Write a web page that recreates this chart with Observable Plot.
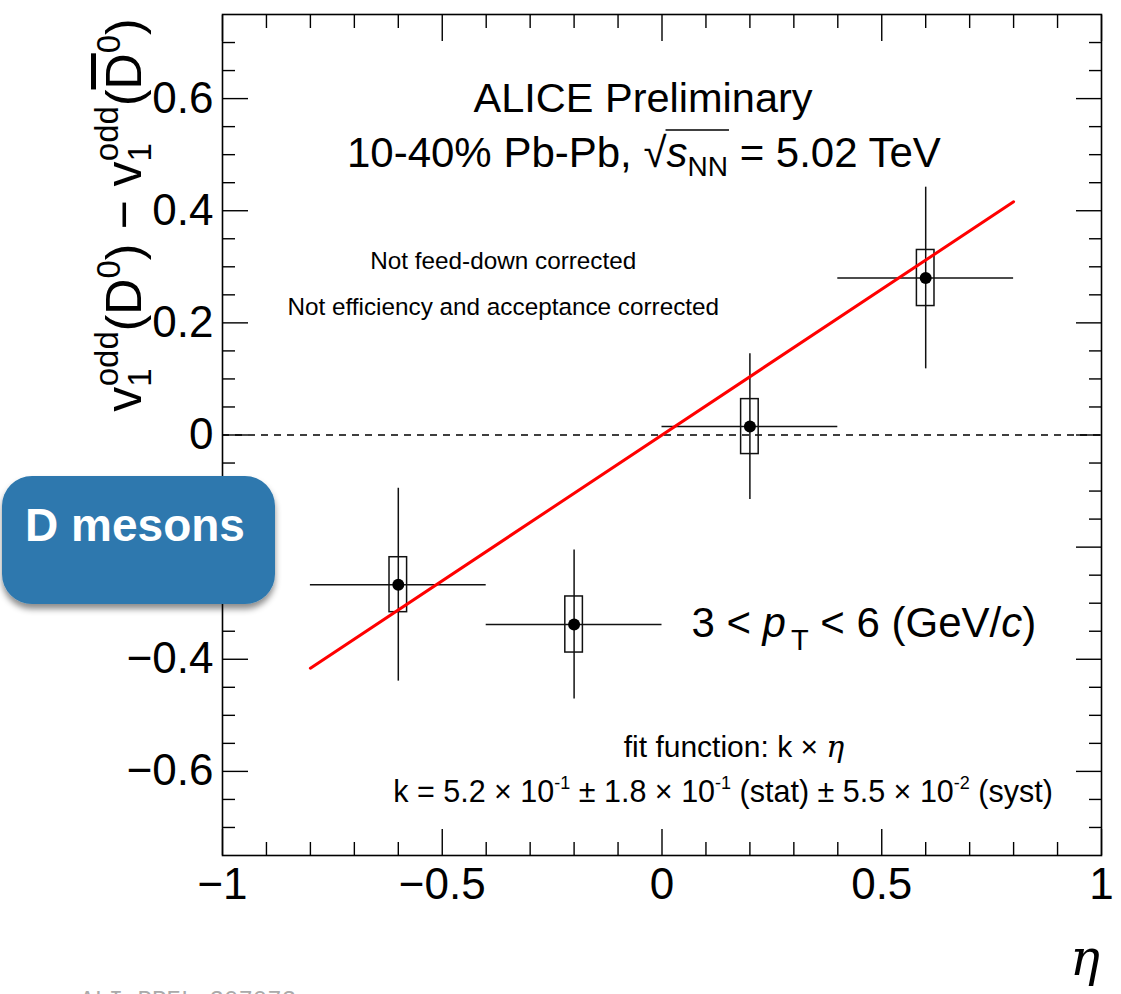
<!DOCTYPE html>
<html>
<head>
<meta charset="utf-8">
<script src="https://cdn.jsdelivr.net/npm/d3@7"></script>
<script src="https://cdn.jsdelivr.net/npm/@observablehq/plot@0.6"></script>
<style>
  html, body { margin: 0; padding: 0; background: #fff; }
  #chart { position: relative; width: 1121px; height: 994px; overflow: hidden; }
  #chart svg { display: block; }
</style>
</head>
<body>
<div id="chart"></div>
<script>
// D0 minus anti-D0 odd directed flow vs pseudorapidity, 10-40% Pb-Pb, 3 < pT < 6 GeV/c
const eta        = [-0.6, -0.2, 0.2, 0.6];
const v1Diff     = [-0.267, -0.338, 0.015, 0.280];
const statErr    = [0.172, 0.133, 0.130, 0.162];
const systErr    = [0.049, 0.050, 0.049, 0.050];
const etaHalfBin = [0.2, 0.2, 0.2, 0.2];
const systHalfWidth = 0.02;

// linear fit k * eta
const fitK = 0.52;
const fitRange = [-0.8, 0.8];

// axis ticks
const xMajor = [-1, -0.5, 0, 0.5, 1];
const xMinor = [-0.9, -0.8, -0.7, -0.6, -0.4, -0.3, -0.2, -0.1, 0.1, 0.2, 0.3, 0.4, 0.6, 0.7, 0.8, 0.9];
const yMajor = [-0.6, -0.4, -0.2, 0, 0.2, 0.4, 0.6];
const yMinor = [-0.7, -0.65, -0.55, -0.5, -0.45, -0.35, -0.3, -0.25, -0.15, -0.1, -0.05,
                0.05, 0.1, 0.15, 0.25, 0.3, 0.35, 0.45, 0.5, 0.55, 0.65, 0.7];
// the -0.2 label sits under the "D mesons" badge
const yLabelled = [-0.6, -0.4, 0, 0.2, 0.4, 0.6];

const points = eta.map((e, i) => ({
  eta: e, v: v1Diff[i], stat: statErr[i], syst: systErr[i], dx: etaHalfBin[i]
}));
const fitLine = fitRange.map(e => ({eta: e, v: fitK * e}));

const fmt = d => d === 0 ? "0" : (d < 0 ? "\u2212" : "") + String(Math.abs(d));
const FONT = "'Liberation Sans', Arial, Helvetica, sans-serif";

const tickOpts = {stroke: "#000", strokeWidth: 1.4, fill: "none", label: null};

const plot = Plot.plot({
  width: 1121,
  height: 994,
  marginLeft: 222,
  marginRight: 20,
  marginTop: 14,
  marginBottom: 139,
  style: {fontFamily: FONT, background: "#fff", color: "#000"},
  x: {domain: [-1, 1], axis: null},
  y: {domain: [-0.75, 0.75], axis: null},
  marks: [
    // inward ticks on all four sides
    Plot.axisX(xMajor, {...tickOpts, anchor: "bottom", tickSize: -26}),
    Plot.axisX(xMinor, {...tickOpts, anchor: "bottom", tickSize: -13}),
    Plot.axisX(xMajor, {...tickOpts, anchor: "top", tickSize: -26}),
    Plot.axisX(xMinor, {...tickOpts, anchor: "top", tickSize: -13}),
    Plot.axisY(yMajor, {...tickOpts, anchor: "left", tickSize: -26}),
    Plot.axisY(yMinor, {...tickOpts, anchor: "left", tickSize: -13}),
    Plot.axisY(yMajor, {...tickOpts, anchor: "right", tickSize: -26}),
    Plot.axisY(yMinor, {...tickOpts, anchor: "right", tickSize: -13}),
    // tick labels
    Plot.axisX(xMajor, {anchor: "bottom", tickSize: 0, tickPadding: 12, tickFormat: fmt,
      fontSize: 44, label: null, fill: "#000"}),
    Plot.axisY(yLabelled, {anchor: "left", tickSize: 0, tickPadding: 9, tickFormat: fmt,
      fontSize: 44, label: null, fill: "#000"}),
    // zero reference
    Plot.ruleY([0], {stroke: "#000", strokeWidth: 1.4, strokeDasharray: "7,6"}),
    // statistical errors and bin widths
    Plot.ruleX(points, {x: "eta", y1: d => d.v - d.stat, y2: d => d.v + d.stat, stroke: "#111", strokeWidth: 1.5}),
    Plot.ruleY(points, {y: "v", x1: d => d.eta - d.dx, x2: d => d.eta + d.dx, stroke: "#111", strokeWidth: 1.5}),
    // systematic boxes
    Plot.rect(points, {x1: d => d.eta - systHalfWidth, x2: d => d.eta + systHalfWidth,
      y1: d => d.v - d.syst, y2: d => d.v + d.syst, fill: "none", stroke: "#111", strokeWidth: 1.5}),
    // fit
    Plot.line(fitLine, {x: "eta", y: "v", stroke: "#ff0000", strokeWidth: 3}),
    Plot.dot(points, {x: "eta", y: "v", r: 6, fill: "#000", stroke: "none"}),
    Plot.frame({stroke: "#000", strokeWidth: 1.6})
  ]
});

document.getElementById("chart").appendChild(plot);

const svg = d3.select(plot);
const sx = plot.scale("x").apply;
const sy = plot.scale("y").apply;

// text helper: parts = [{t, size, italic, dy, dx, deco, family}]
function richText(x, y, parts, {size = 40, anchor = "middle", transform = null, family = FONT} = {}) {
  const t = svg.append("text")
    .attr("x", x).attr("y", y)
    .attr("text-anchor", anchor)
    .attr("font-family", family)
    .attr("font-size", size)
    .attr("fill", "#000");
  if (transform) t.attr("transform", transform);
  for (const p of parts) {
    const s = t.append("tspan").text(p.t);
    if (p.size) s.attr("font-size", p.size);
    if (p.italic) s.attr("font-style", "italic");
    if (p.dy) s.attr("dy", p.dy);
    if (p.dx) s.attr("dx", p.dx);
    if (p.family) s.attr("font-family", p.family);
    if (p.deco) s.attr("text-decoration", p.deco);
    if (p.weight) s.attr("font-weight", p.weight);
  }
  return t;
}

// header
richText(sx(-0.042), sy(0.576), [{t: "ALICE Preliminary"}], {size: 41.5});
const line2 = richText(sx(-0.04), sy(0.478), [
  {t: "10-40% Pb-Pb, \u221A"},
  {t: "s", italic: true},
  {t: "NN", size: 28, dy: 9},
  {t: " = 5.02 TeV", dy: -9}
], {size: 42});
// overline of the square root
{
  const node = line2.node();
  const full = node.textContent;
  const iRoot = full.indexOf("\u221A");
  const iEnd = full.indexOf("NN") + 1;
  const a = node.getExtentOfChar(iRoot);
  const b = node.getExtentOfChar(iEnd);
  svg.append("line")
    .attr("x1", a.x + a.width - 1).attr("x2", b.x + b.width + 1)
    .attr("y1", a.y + 1.5).attr("y2", a.y + 1.5)
    .attr("stroke", "#000").attr("stroke-width", 1.6);
}

richText(sx(-0.36), sy(0.296), [{t: "Not feed-down corrected"}], {size: 24.3});
richText(sx(-0.36), sy(0.213), [{t: "Not efficiency and acceptance corrected"}], {size: 24.3});

// pT interval
richText(sx(0.068), sy(-0.361), [
  {t: "3 < "},
  {t: "p", italic: true},
  {t: "T", size: 29, dy: 13, dx: 5},
  {t: " < 6 (GeV/", dy: -13},
  {t: "c", italic: true},
  {t: ")"}
], {size: 42, anchor: "start"});

// fit result
richText(sx(0.165), sy(-0.575), [
  {t: "fit function: k \u00D7 "},
  {t: "\u03B7", italic: true, family: "'DejaVu Serif', 'Liberation Serif', serif"}
], {size: 30});
const sup = (s) => ({t: s, size: 18, dy: -13});
const back = (s) => ({t: s, dy: 13});
richText(sx(0.14), sy(-0.656), [
  {t: "k = 5.2 \u00D7 10"}, sup("-1"), back(" \u00B1 1.8 \u00D7 10"), sup("-1"),
  back(" (stat) \u00B1 5.5 \u00D7 10"), sup("-2"), back(" (syst)")
], {size: 30.5});

// y-axis title
richText(141, 215, [
  {t: "v"},
  {t: "1", size: 33, dy: 10},
  {t: "odd", size: 33, dx: -18, dy: -33},
  {t: "(D", dy: 23},
  {t: "0", size: 33, dy: -21},
  {t: ") \u2212 ", dy: 21},
  {t: "v"},
  {t: "1", size: 33, dy: 10},
  {t: "odd", size: 33, dx: -18, dy: -33},
  {t: "(", dy: 23},
  {t: "D", deco: "overline"},
  {t: "0", size: 33, dy: -21},
  {t: ")", dy: 21}
], {size: 50, transform: "rotate(-90,141,215)"});

// x-axis title
svg.append("text")
  .attr("x", 1085).attr("y", 975)
  .attr("text-anchor", "middle")
  .attr("font-family", "'DejaVu Serif', 'Liberation Serif', serif")
  .attr("font-style", "italic")
  .attr("font-size", 50)
  .attr("fill", "#000")
  .text("\u03B7");

// preliminary figure id, cut at the bottom edge
svg.append("text")
  .attr("x", 80).attr("y", 1007)
  .attr("text-anchor", "start")
  .attr("font-family", "'Liberation Mono', 'DejaVu Sans Mono', monospace")
  .attr("font-size", 24)
  .attr("fill", "#aaa")
  .text("ALI-PREL-307073");

// "D mesons" badge
const defs = svg.append("defs");
const f = defs.append("filter").attr("id", "badgeShadow")
  .attr("x", "-10%").attr("y", "-10%").attr("width", "130%").attr("height", "140%");
f.append("feDropShadow").attr("dx", 0).attr("dy", 5).attr("stdDeviation", 3)
  .attr("flood-color", "#000").attr("flood-opacity", 0.45);
const badge = svg.append("g");
badge.append("rect")
  .attr("x", 2).attr("y", 476).attr("width", 273).attr("height", 128)
  .attr("rx", 30).attr("ry", 30)
  .attr("fill", "#2e78ae")
  .attr("filter", "url(#badgeShadow)");
badge.append("text")
  .attr("x", 135).attr("y", 541)
  .attr("text-anchor", "middle")
  .attr("font-family", FONT)
  .attr("font-weight", "bold")
  .attr("font-size", 46)
  .attr("fill", "#fff")
  .text("D mesons");
</script>
</body>
</html>
